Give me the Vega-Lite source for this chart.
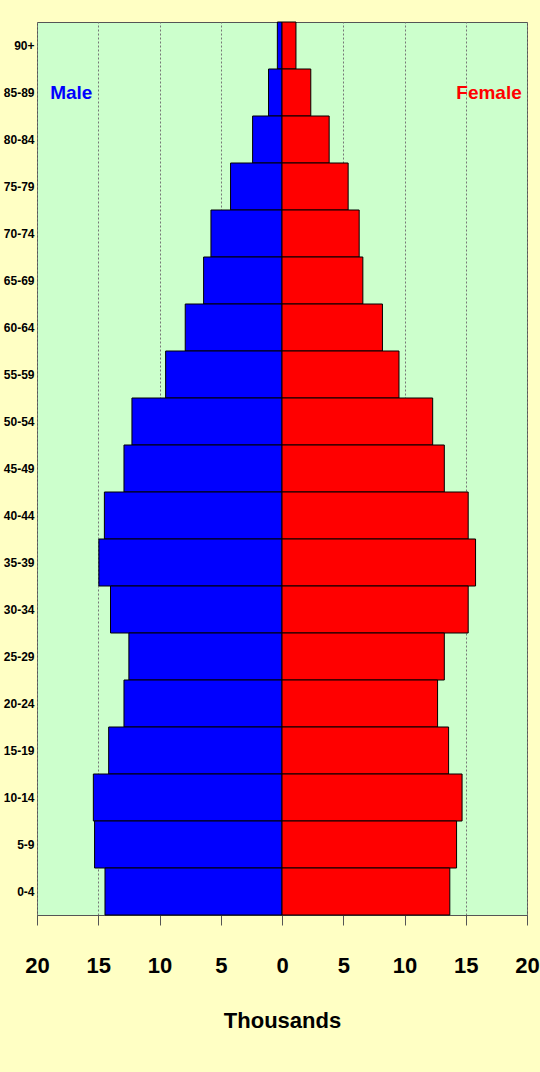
{
  "$schema": "https://vega.github.io/schema/vega-lite/v6.json",
  "width": 490,
  "height": 893,
  "autosize": {"type": "none"},
  "padding": {"left": 37, "top": 22, "right": 13, "bottom": 157},
  "background": "#FFFFC4",
  "config": {
    "view": {"fill": "#CCFFCC", "stroke": "#555555", "strokeWidth": 1},
    "font": "Liberation Sans"
  },
  "datasets": {
    "pop": [
      {"age": "90+", "sex": "Male", "value": -0.38},
      {"age": "85-89", "sex": "Male", "value": -1.1},
      {"age": "80-84", "sex": "Male", "value": -2.4},
      {"age": "75-79", "sex": "Male", "value": -4.2},
      {"age": "70-74", "sex": "Male", "value": -5.8},
      {"age": "65-69", "sex": "Male", "value": -6.4},
      {"age": "60-64", "sex": "Male", "value": -7.9},
      {"age": "55-59", "sex": "Male", "value": -9.5},
      {"age": "50-54", "sex": "Male", "value": -12.25},
      {"age": "45-49", "sex": "Male", "value": -12.9},
      {"age": "40-44", "sex": "Male", "value": -14.5},
      {"age": "35-39", "sex": "Male", "value": -14.95},
      {"age": "30-34", "sex": "Male", "value": -14.0},
      {"age": "25-29", "sex": "Male", "value": -12.5},
      {"age": "20-24", "sex": "Male", "value": -12.9},
      {"age": "15-19", "sex": "Male", "value": -14.15},
      {"age": "10-14", "sex": "Male", "value": -15.4},
      {"age": "5-9", "sex": "Male", "value": -15.3},
      {"age": "0-4", "sex": "Male", "value": -14.45},
      {"age": "90+", "sex": "Female", "value": 1.14},
      {"age": "85-89", "sex": "Female", "value": 2.35},
      {"age": "80-84", "sex": "Female", "value": 3.85},
      {"age": "75-79", "sex": "Female", "value": 5.4},
      {"age": "70-74", "sex": "Female", "value": 6.3},
      {"age": "65-69", "sex": "Female", "value": 6.6},
      {"age": "60-64", "sex": "Female", "value": 8.2},
      {"age": "55-59", "sex": "Female", "value": 9.55},
      {"age": "50-54", "sex": "Female", "value": 12.3},
      {"age": "45-49", "sex": "Female", "value": 13.25},
      {"age": "40-44", "sex": "Female", "value": 15.2},
      {"age": "35-39", "sex": "Female", "value": 15.8},
      {"age": "30-34", "sex": "Female", "value": 15.2},
      {"age": "25-29", "sex": "Female", "value": 13.25},
      {"age": "20-24", "sex": "Female", "value": 12.7},
      {"age": "15-19", "sex": "Female", "value": 13.6},
      {"age": "10-14", "sex": "Female", "value": 14.7},
      {"age": "5-9", "sex": "Female", "value": 14.25},
      {"age": "0-4", "sex": "Female", "value": 13.7}
    ],
    "labels": [
      {"age": "85-89", "sex": "Male", "value": -17.2},
      {"age": "85-89", "sex": "Female", "value": 16.9}
    ]
  },
  "layer": [
    {
      "data": {"name": "pop"},
      "mark": {"type": "bar", "stroke": "#000000", "strokeWidth": 1},
      "encoding": {
        "y": {
          "field": "age",
          "type": "nominal",
          "sort": ["90+", "85-89", "80-84", "75-79", "70-74", "65-69", "60-64", "55-59", "50-54", "45-49", "40-44", "35-39", "30-34", "25-29", "20-24", "15-19", "10-14", "5-9", "0-4"],
          "scale": {"paddingInner": 0, "paddingOuter": 0},
          "axis": {
            "title": null,
            "domain": false,
            "ticks": false,
            "labelPadding": 3,
            "labelFontSize": 12,
            "labelFontWeight": "bold",
            "labelColor": "#000000",
            "labelFont": "Liberation Sans"
          }
        },
        "x": {
          "field": "value",
          "type": "quantitative",
          "scale": {"domain": [-20, 20], "nice": false, "zero": false},
          "axis": {
            "values": [-20, -15, -10, -5, 0, 5, 10, 15, 20],
            "labelExpr": "abs(datum.value)",
            "title": "Thousands",
            "titleFontSize": 22,
            "titleFontWeight": "bold",
            "titleFont": "Liberation Sans",
            "titleColor": "#000000",
            "titlePadding": 34,
            "labelFontSize": 22,
            "labelFontWeight": "bold",
            "labelColor": "#000000",
            "labelFont": "Liberation Sans",
            "labelPadding": 30,
            "labelFlush": false,
            "labelOverlap": false,
            "tickSize": 10,
            "tickColor": "#555555",
            "domain": true,
            "domainColor": "#555555",
            "grid": true,
            "gridColor": "#777777",
            "gridDash": [2, 2],
            "gridWidth": 1
          }
        },
        "color": {
          "field": "sex",
          "type": "nominal",
          "scale": {"domain": ["Male", "Female"], "range": ["#0000FF", "#FF0000"]},
          "legend": null
        }
      }
    },
    {
      "data": {"name": "labels"},
      "mark": {"type": "text", "fontSize": 19, "fontWeight": "bold", "font": "Liberation Sans", "align": "center", "baseline": "middle"},
      "encoding": {
        "y": {"field": "age", "type": "nominal", "sort": ["90+", "85-89", "80-84", "75-79", "70-74", "65-69", "60-64", "55-59", "50-54", "45-49", "40-44", "35-39", "30-34", "25-29", "20-24", "15-19", "10-14", "5-9", "0-4"]},
        "x": {"field": "value", "type": "quantitative"},
        "text": {"field": "sex"},
        "color": {"field": "sex", "type": "nominal", "legend": null}
      }
    }
  ]
}
